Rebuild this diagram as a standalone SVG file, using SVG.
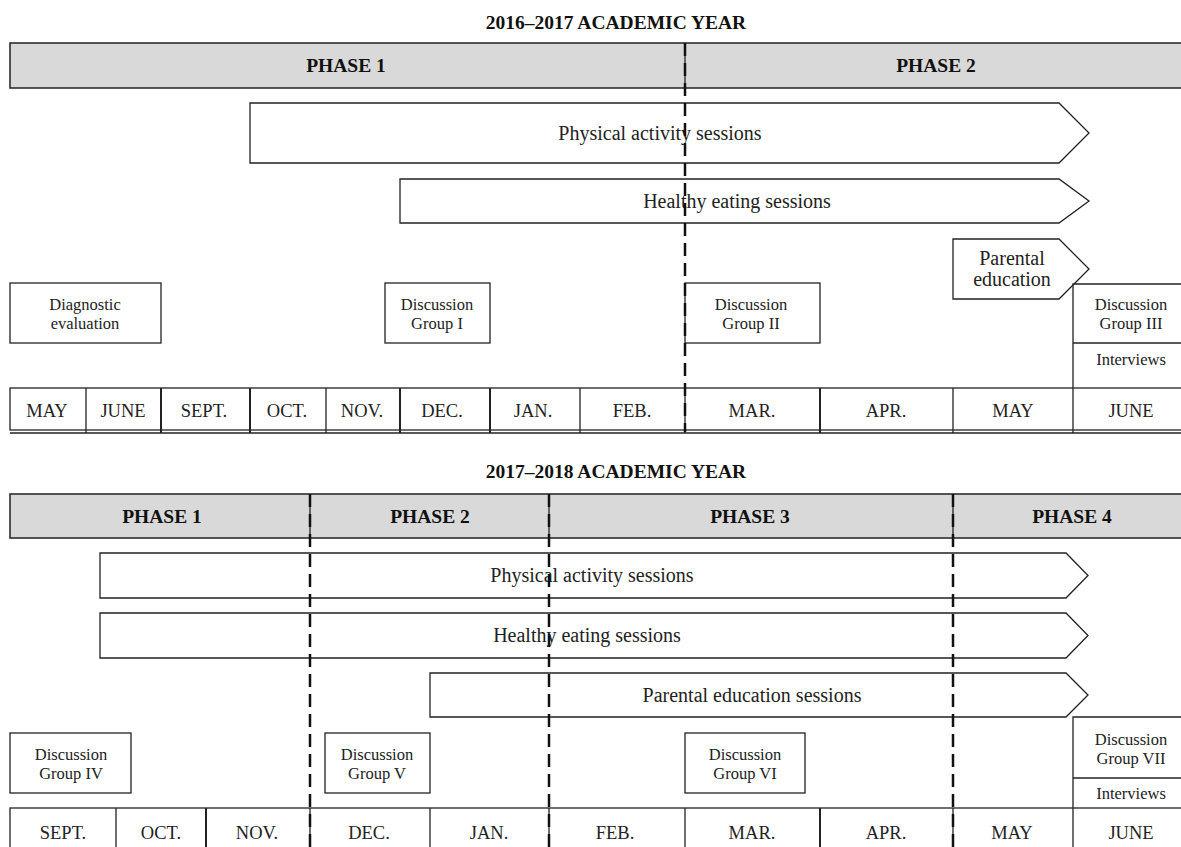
<svg xmlns="http://www.w3.org/2000/svg" width="1181" height="847" viewBox="0 0 1181 847">
<style>
.bg{fill:#ffffff}
.bar{fill:#d9d9d9;stroke:#222;stroke-width:1.5}
.box{fill:#ffffff;stroke:#222;stroke-width:1.3}
.ln{stroke:#222;stroke-width:1.3;fill:none}
.dash{stroke:#111;stroke-width:2.5;stroke-dasharray:13 7;fill:none}
.title{font-family:"Liberation Serif",serif;font-weight:bold;font-size:19.5px;fill:#111;text-anchor:middle}
.phase{font-family:"Liberation Serif",serif;font-weight:bold;font-size:19.5px;fill:#111;text-anchor:middle}
.big{font-family:"Liberation Serif",serif;font-size:20px;fill:#222;text-anchor:middle}
.sm{font-family:"Liberation Serif",serif;font-size:16.5px;fill:#222;text-anchor:middle}
.mon{font-family:"Liberation Serif",serif;font-size:18.5px;fill:#222;text-anchor:middle}
</style>
<rect class="bg" x="0" y="0" width="1181" height="847"/>

<!-- ===== 2016-2017 ===== -->
<text class="title" x="616" y="29">2016–2017 ACADEMIC YEAR</text>
<g id="phasebar1">
<rect class="bar" x="10" y="43" width="1175" height="45"/>
<line class="ln" x1="685" y1="43" x2="685" y2="88"/>
<text class="phase" x="346" y="72">PHASE 1</text>
<text class="phase" x="936" y="72">PHASE 2</text>
</g>
<g id="pa1">
<path class="box" d="M250,103 H1059 L1089,133 L1059,163 H250 Z"/>
<text class="big" x="660" y="140">Physical activity sessions</text>
</g>
<g id="he1">
<path class="box" d="M400,179 H1059 L1089,201 L1059,223 H400 Z"/>
<text class="big" x="737" y="208">Healthy eating sessions</text>
</g>
<g id="pe1">
<path class="box" d="M953,239 H1059 L1089,269 L1059,299 H953 Z"/>
<text class="big" x="1012" y="265">Parental</text>
<text class="big" x="1012" y="286">education</text>
</g>
<g id="diag">
<rect class="box" x="10" y="283" width="151" height="60"/>
<text class="sm" x="85" y="310">Diagnostic</text>
<text class="sm" x="85" y="329">evaluation</text>
</g>
<g id="dg1">
<rect class="box" x="385" y="283" width="105" height="60"/>
<text class="sm" x="437" y="310">Discussion</text>
<text class="sm" x="437" y="329">Group I</text>
</g>
<g id="dg2">
<rect class="box" x="685" y="283" width="135" height="60"/>
<text class="sm" x="751" y="310">Discussion</text>
<text class="sm" x="751" y="329">Group II</text>
</g>
<g id="dg3">
<path class="ln" d="M1073,388 V284 H1185"/>
<line class="ln" x1="1073" y1="343" x2="1185" y2="343"/>
<text class="sm" x="1131" y="310">Discussion</text>
<text class="sm" x="1131" y="329">Group III</text>
<text class="sm" x="1131" y="365">Interviews</text>
</g>
<g id="months1">
<rect class="box" x="10" y="388" width="1175" height="42"/>
<line class="ln" x1="10" y1="433" x2="1185" y2="433"/>
<g class="ln">
<line x1="86" y1="388" x2="86" y2="433"/>
<line x1="161" y1="388" x2="161" y2="433" style="stroke-width:2"/>
<line x1="250" y1="388" x2="250" y2="433" style="stroke-width:2"/>
<line x1="326" y1="388" x2="326" y2="433"/>
<line x1="400" y1="388" x2="400" y2="433" style="stroke-width:2"/>
<line x1="490" y1="388" x2="490" y2="433" style="stroke-width:2"/>
<line x1="580" y1="388" x2="580" y2="433"/>
<line x1="685" y1="388" x2="685" y2="433"/>
<line x1="820" y1="388" x2="820" y2="433" style="stroke-width:2"/>
<line x1="953" y1="388" x2="953" y2="433"/>
<line x1="1073" y1="388" x2="1073" y2="433"/>
</g>
<text class="mon" x="47" y="417">MAY</text>
<text class="mon" x="123" y="417">JUNE</text>
<text class="mon" x="204" y="417">SEPT.</text>
<text class="mon" x="287" y="417">OCT.</text>
<text class="mon" x="362" y="417">NOV.</text>
<text class="mon" x="442" y="417">DEC.</text>
<text class="mon" x="533" y="417">JAN.</text>
<text class="mon" x="632" y="417">FEB.</text>
<text class="mon" x="752" y="417">MAR.</text>
<text class="mon" x="886" y="417">APR.</text>
<text class="mon" x="1013" y="417">MAY</text>
<text class="mon" x="1131" y="417">JUNE</text>
</g>

<!-- ===== 2017-2018 ===== -->
<text class="title" x="616" y="478">2017–2018 ACADEMIC YEAR</text>
<g id="phasebar2">
<rect class="bar" x="10" y="494" width="1175" height="44"/>
<line class="ln" x1="310" y1="494" x2="310" y2="538"/>
<line class="ln" x1="549" y1="494" x2="549" y2="538"/>
<line class="ln" x1="953" y1="494" x2="953" y2="538"/>
<text class="phase" x="162" y="523">PHASE 1</text>
<text class="phase" x="430" y="523">PHASE 2</text>
<text class="phase" x="750" y="523">PHASE 3</text>
<text class="phase" x="1072" y="523">PHASE 4</text>
</g>
<g id="pa2">
<path class="box" d="M100,553 H1066 L1088,575.5 L1066,598 H100 Z"/>
<text class="big" x="592" y="582">Physical activity sessions</text>
</g>
<g id="he2">
<path class="box" d="M100,613 H1066 L1088,635.5 L1066,658 H100 Z"/>
<text class="big" x="587" y="642">Healthy eating sessions</text>
</g>
<g id="pe2">
<path class="box" d="M430,673 H1066 L1088,695 L1066,717 H430 Z"/>
<text class="big" x="752" y="702">Parental education sessions</text>
</g>
<g id="dg4">
<rect class="box" x="10" y="733" width="121" height="60"/>
<text class="sm" x="71" y="760">Discussion</text>
<text class="sm" x="71" y="779">Group IV</text>
</g>
<g id="dg5">
<rect class="box" x="325" y="733" width="105" height="60"/>
<text class="sm" x="377" y="760">Discussion</text>
<text class="sm" x="377" y="779">Group V</text>
</g>
<g id="dg6">
<rect class="box" x="685" y="733" width="120" height="60"/>
<text class="sm" x="745" y="760">Discussion</text>
<text class="sm" x="745" y="779">Group VI</text>
</g>
<g id="dg7">
<path class="ln" d="M1073,808 V717 H1185"/>
<line class="ln" x1="1073" y1="778" x2="1185" y2="778"/>
<text class="sm" x="1131" y="745">Discussion</text>
<text class="sm" x="1131" y="764">Group VII</text>
<text class="sm" x="1131" y="799">Interviews</text>
</g>
<g id="months2">
<rect class="box" x="10" y="808" width="1175" height="50"/>
<g class="ln">
<line x1="116" y1="808" x2="116" y2="847"/>
<line x1="206" y1="808" x2="206" y2="847" style="stroke-width:2"/>
<line x1="310" y1="808" x2="310" y2="847"/>
<line x1="430" y1="808" x2="430" y2="847"/>
<line x1="549" y1="808" x2="549" y2="847"/>
<line x1="685" y1="808" x2="685" y2="847"/>
<line x1="820" y1="808" x2="820" y2="847" style="stroke-width:2"/>
<line x1="953" y1="808" x2="953" y2="847"/>
<line x1="1073" y1="808" x2="1073" y2="847"/>
</g>
<text class="mon" x="63" y="839">SEPT.</text>
<text class="mon" x="161" y="839">OCT.</text>
<text class="mon" x="257" y="839">NOV.</text>
<text class="mon" x="369" y="839">DEC.</text>
<text class="mon" x="489" y="839">JAN.</text>
<text class="mon" x="615" y="839">FEB.</text>
<text class="mon" x="752" y="839">MAR.</text>
<text class="mon" x="886" y="839">APR.</text>
<text class="mon" x="1012" y="839">MAY</text>
<text class="mon" x="1131" y="839">JUNE</text>
</g>

<g id="connectors">
<line class="dash" x1="685" y1="43" x2="685" y2="432"/>
<line class="dash" x1="310" y1="494" x2="310" y2="847"/>
<line class="dash" x1="549" y1="494" x2="549" y2="847"/>
<line class="dash" x1="953" y1="494" x2="953" y2="847"/>
</g>
</svg>
